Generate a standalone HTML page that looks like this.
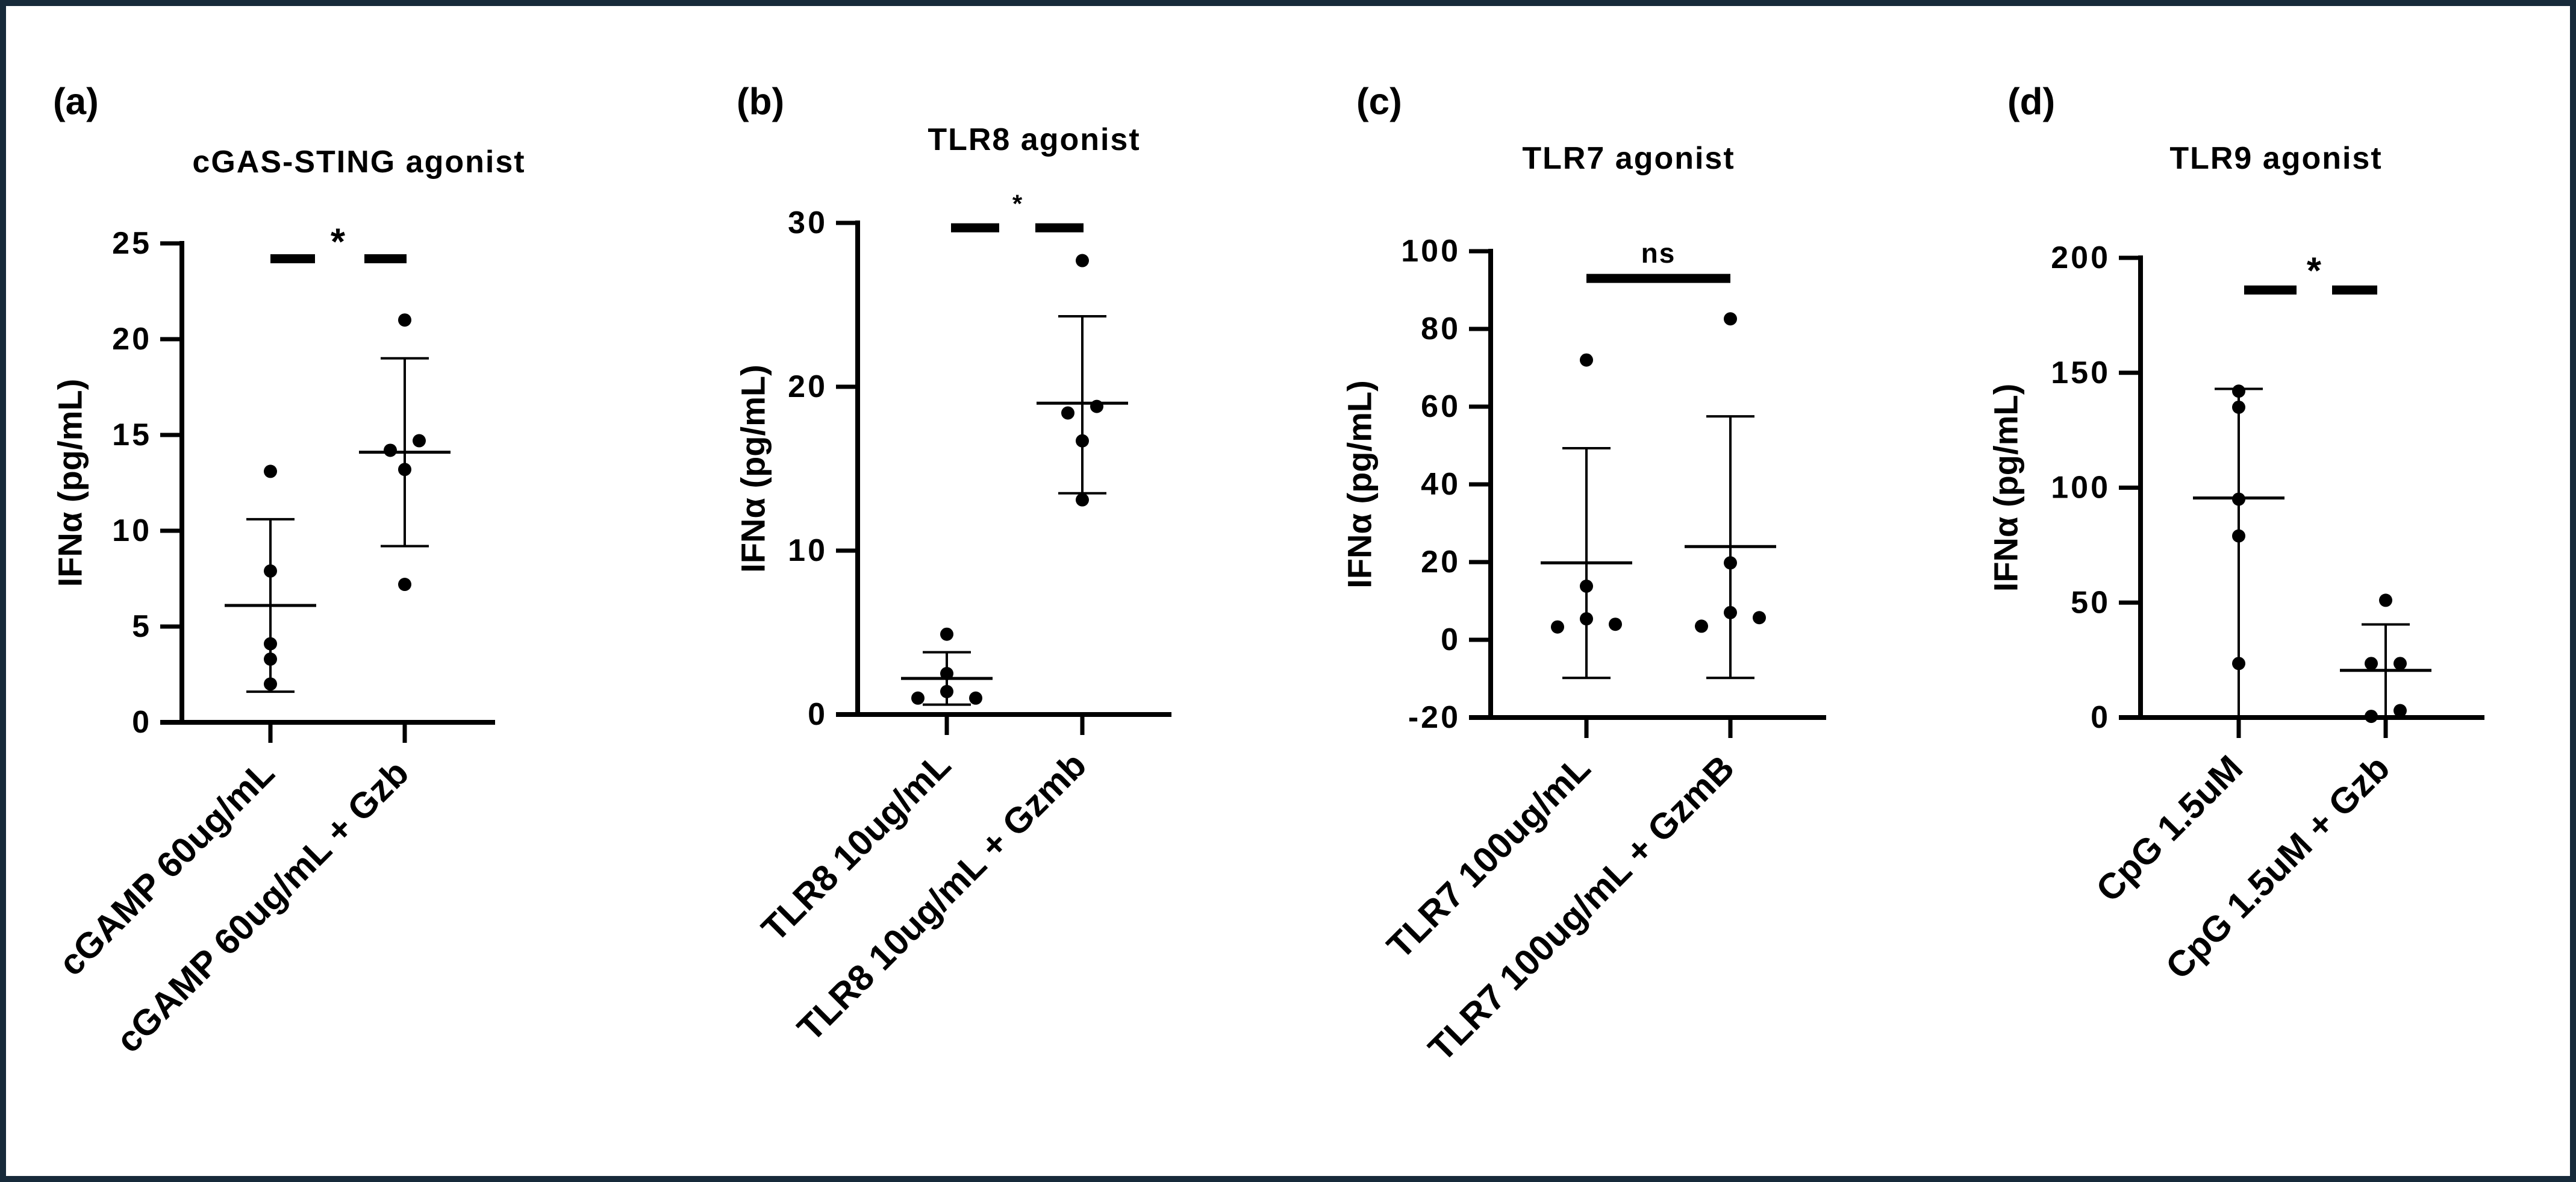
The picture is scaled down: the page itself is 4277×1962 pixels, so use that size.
<!DOCTYPE html>
<html><head><meta charset="utf-8"><style>
html,body{margin:0;padding:0;background:#fff}
svg{display:block}
text{font-family:"Liberation Sans",sans-serif;font-weight:bold;fill:#000}
</style></head><body>
<svg id="fig" width="4277" height="1962" viewBox="0 0 4277 1962" xmlns="http://www.w3.org/2000/svg">
<rect x="5" y="5" width="4267" height="1952" fill="#fff" stroke="#172a3a" stroke-width="10"/>
</svg>
<script>
// Panel (a)
const catsA = ["cGAMP 60ug/mL", "cGAMP 60ug/mL + Gzb"];
const ticksA = [0, 5, 10, 15, 20, 25];
const ptsA1 = [13.1, 7.9, 4.1, 3.3, 2.0];
const jitA1 = [0, 0, 0, 0, 0];
const ptsA2 = [21.0, 14.7, 14.2, 13.2, 7.2];
const jitA2 = [0, 1, -1, 0, 0];
const meanA = [6.1, 14.1];
const sdLoA = [1.6, 9.2];
const sdHiA = [10.6, 19.0];
// Panel (b)
const catsB = ["TLR8 10ug/mL", "TLR8 10ug/mL + Gzmb"];
const ticksB = [0, 10, 20, 30];
const ptsB1 = [4.9, 2.5, 1.4, 1.0, 1.0];
const jitB1 = [0, 0, 0, -2, 2];
const ptsB2 = [27.7, 18.8, 18.4, 16.7, 13.1];
const jitB2 = [0, 1, -1, 0, 0];
const meanB = [2.2, 19.0];
const sdLoB = [0.6, 13.5];
const sdHiB = [3.8, 24.3];
// Panel (c)
const catsC = ["TLR7 100ug/mL", "TLR7 100ug/mL + GzmB"];
const ticksC = [-20, 0, 20, 40, 60, 80, 100];
const ptsC1 = [72, 13.8, 5.4, 3.3, 4.0];
const jitC1 = [0, 0, 0, -2, 2];
const ptsC2 = [82.6, 19.8, 7.0, 3.5, 5.7];
const jitC2 = [0, 0, 0, -2, 2];
const meanC = [19.8, 24.0];
const sdLoC = [-9.8, -9.8];
const sdHiC = [49.3, 57.5];
// Panel (d)
const catsD = ["CpG 1.5uM", "CpG 1.5uM + Gzb"];
const ticksD = [0, 50, 100, 150, 200];
const ptsD1 = [142, 135, 95, 79, 23.5];
const jitD1 = [0, 0, 0, 0, 0];
const ptsD2 = [51, 23.5, 23.5, 0.5, 3];
const jitD2 = [0, -1, 1, -1, 1];
const meanD = [95.5, 20.5];
const sdLoD = [0, 0];
const sdHiD = [143, 40.5];

const NS = "http://www.w3.org/2000/svg";
const svg = document.getElementById("fig");
function mk(tag, attrs, parent, txt){
  const e = document.createElementNS(NS, tag);
  for (const k in attrs) e.setAttribute(k, attrs[k]);
  if (txt !== undefined) e.textContent = txt;
  (parent || svg).appendChild(e);
  return e;
}

function panel(cfg){
  const g = mk("g", {});
  
  
  const ymin = cfg.ticks[0], ymax = cfg.ticks[cfg.ticks.length-1];
  const Y = v => cfg.y0 + (v - ymin) / (ymax - ymin) * (cfg.yTop - cfg.y0);
  const X = i => cfg.cx[i];
  const pl = mk("text", {x: cfg.labX, y: 169, "font-size": 62, "dominant-baseline": "central"}, g, "(" + cfg.id + ")");
  
  
  const tt = mk("text", {x: cfg.titleX, y: cfg.titleY, "font-size": 52, "text-anchor": "middle", "dominant-baseline": "central", "letter-spacing": "2"}, g, cfg.title);
  
  
  const ym = (cfg.y0 + cfg.yTop) / 2;
  const yt = mk("text", {x: cfg.ylabX, y: ym, "font-size": 56, "text-anchor": "middle", "dominant-baseline": "central", transform: "rotate(-90 " + cfg.ylabX + " " + ym + ")"}, g, "IFNα (pg/mL)");
  
  
  const ya = mk("line", {x1: cfg.ax, y1: cfg.yTop - 4, x2: cfg.ax, y2: cfg.y0 + 4, stroke: "#000", "stroke-width": 8}, g);
  
  
  const xa = mk("line", {x1: cfg.ax - 36, y1: cfg.y0, x2: cfg.axEnd, y2: cfg.y0, stroke: "#000", "stroke-width": 8}, g);
  
  
  cfg.ticks.forEach(t => {
    const l = mk("line", {x1: cfg.ax - 36, y1: Y(t), x2: cfg.ax, y2: Y(t), stroke: "#000", "stroke-width": 7}, g);
    
    
    const tl = mk("text", {x: cfg.ax - 50, y: Y(t), "font-size": 52, "text-anchor": "end", "dominant-baseline": "central", "letter-spacing": "4"}, g, String(t));
    
    
  });
  cfg.cats.forEach((c, i) => {
    const l = mk("line", {x1: X(i), y1: cfg.y0, x2: X(i), y2: cfg.y0 + 34, stroke: "#000", "stroke-width": 7}, g);
    
    
    const tx = X(i) + 10, ty = cfg.y0 + 88;
    const cl = mk("text", {x: tx, y: ty, "font-size": 60, "text-anchor": "end", transform: "rotate(-45 " + tx + " " + ty + ")"}, g, c);
    
    
  });
  const groups = [[cfg.p1, cfg.j1], [cfg.p2, cfg.j2]];
  groups.forEach((gr, i) => {
    const cx = X(i);
    const eb = mk("line", {x1: cx, y1: Y(cfg.hi[i]), x2: cx, y2: Y(cfg.lo[i]), stroke: "#000", "stroke-width": 4}, g);
    
    
    [cfg.hi[i], cfg.lo[i]].forEach(v => {
      const cp = mk("line", {x1: cx - 40, y1: Y(v), x2: cx + 40, y2: Y(v), stroke: "#000", "stroke-width": 4}, g);
      
      
    });
    const mn = mk("line", {x1: cx - 76, y1: Y(cfg.mean[i]), x2: cx + 76, y2: Y(cfg.mean[i]), stroke: "#000", "stroke-width": 5}, g);
    
    
    gr[0].forEach((v, k) => {
      const d = mk("circle", {cx: cx + gr[1][k] * 24, cy: Y(v), r: 11, fill: "#000"}, g);
      
      
    });
  });
  const sy = Y(cfg.sigVal);
  if (cfg.sigText === "ns") {
    const b = mk("line", {x1: X(0), y1: sy, x2: X(1), y2: sy, stroke: "#000", "stroke-width": 15}, g);
    
    
    const s = mk("text", {x: (X(0) + X(1)) / 2, y: sy - 26, "font-size": 46, "text-anchor": "middle", "letter-spacing": "2"}, g, "ns");
    
    
  } else {
    cfg.sigSeg.forEach(sg => {
      const b = mk("line", {x1: sg[0], y1: sy, x2: sg[1], y2: sy, stroke: "#000", "stroke-width": 15}, g);
      
      
    });
    const s = mk("text", {x: cfg.starX, y: cfg.starY, "font-size": cfg.starSize, "text-anchor": "middle", "dominant-baseline": "central"}, g, "*");
    
    
  }
}

panel({id: "a", title: "cGAS-STING agonist", titleX: 596, titleY: 269, labX: 88, ylabX: 116,
  ax: 302, axEnd: 822, y0: 1199, yTop: 404, cx: [449, 672], cats: catsA, ticks: ticksA,
  p1: ptsA1, j1: jitA1, p2: ptsA2, j2: jitA2, mean: meanA, lo: sdLoA, hi: sdHiA,
  sigVal: 24.2, sigSeg: [[449, 523], [605, 675]], starX: 561, starY: 402, starSize: 62});
panel({id: "b", title: "TLR8 agonist", titleX: 1717, titleY: 232, labX: 1223, ylabX: 1250,
  ax: 1424, axEnd: 1945, y0: 1186, yTop: 370, cx: [1572, 1797], cats: catsB, ticks: ticksB,
  p1: ptsB1, j1: jitB1, p2: ptsB2, j2: jitB2, mean: meanB, lo: sdLoB, hi: sdHiB,
  sigVal: 29.7, sigSeg: [[1579, 1659], [1719, 1799]], starX: 1689, starY: 338, starSize: 42});
panel({id: "c", title: "TLR7 agonist", titleX: 2704, titleY: 263, labX: 2252, ylabX: 2257,
  ax: 2475, axEnd: 3032, y0: 1191, yTop: 417, cx: [2634, 2873], cats: catsC, ticks: ticksC,
  p1: ptsC1, j1: jitC1, p2: ptsC2, j2: jitC2, mean: meanC, lo: sdLoC, hi: sdHiC,
  sigVal: 93, sigText: "ns"});
panel({id: "d", title: "TLR9 agonist", titleX: 3779, titleY: 263, labX: 3333, ylabX: 3330,
  ax: 3554, axEnd: 4125, y0: 1191, yTop: 428, cx: [3717, 3961], cats: catsD, ticks: ticksD,
  p1: ptsD1, j1: jitD1, p2: ptsD2, j2: jitD2, mean: meanD, lo: sdLoD, hi: sdHiD,
  sigVal: 186, sigSeg: [[3726, 3813], [3872, 3947]], starX: 3842, starY: 450, starSize: 62});
</script>
</body></html>
